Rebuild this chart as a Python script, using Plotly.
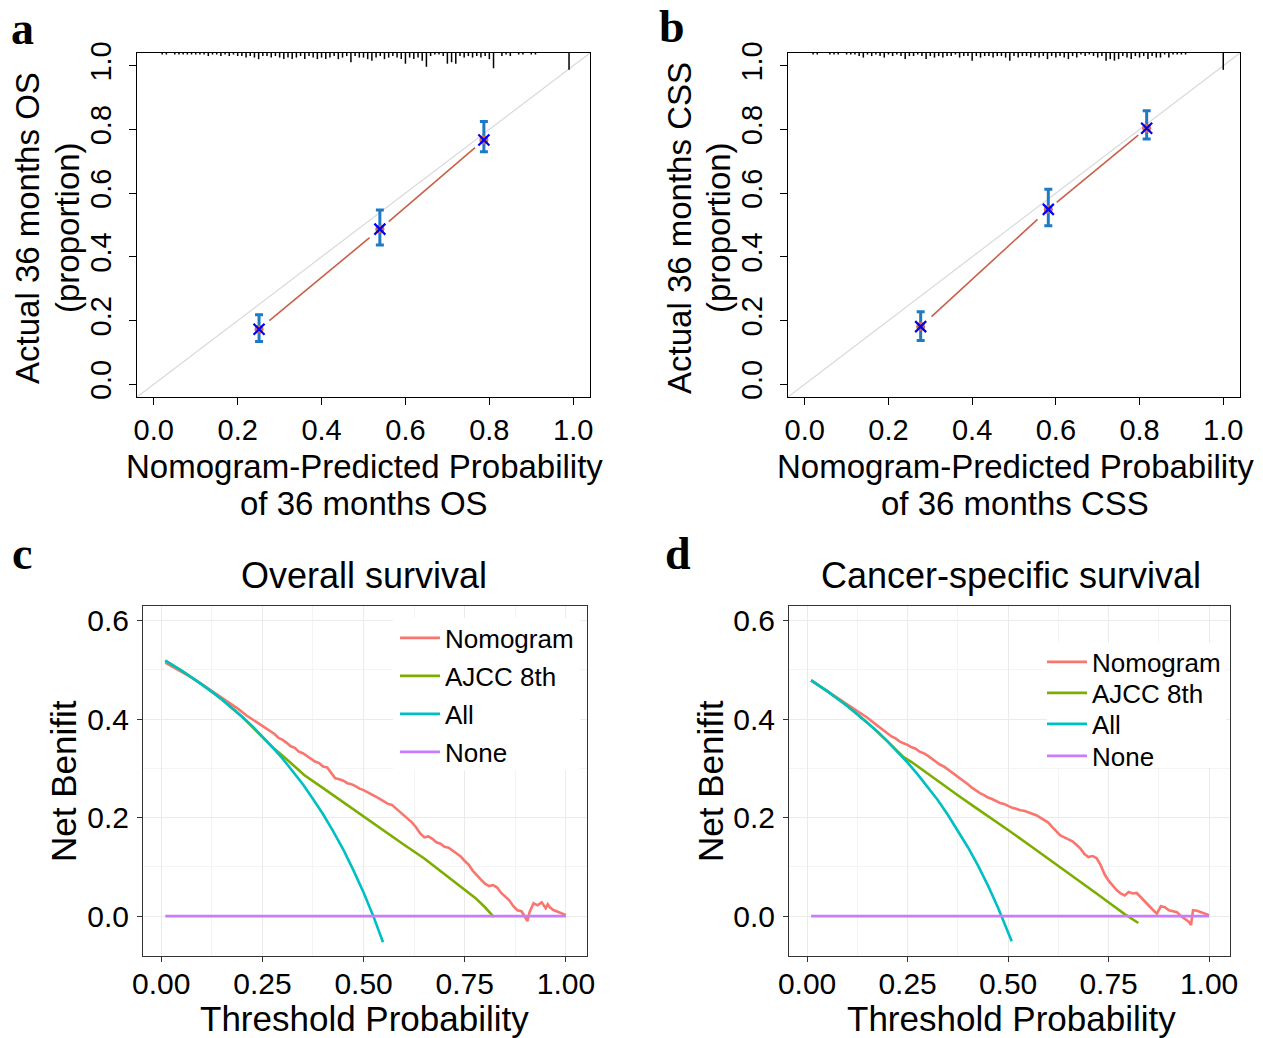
import plotly.graph_objects as go

W, H = 1263, 1038

# ---------------- Panel a / b : calibration (36 months) ----------------
cal_a_pred = [0.251, 0.539, 0.787]
cal_a_obs = [0.173, 0.487, 0.767]
cal_a_lo = [0.134, 0.437, 0.730]
cal_a_hi = [0.218, 0.547, 0.825]

cal_b_pred = [0.277, 0.582, 0.817]
cal_b_obs = [0.181, 0.549, 0.804]
cal_b_lo = [0.137, 0.498, 0.770]
cal_b_hi = [0.228, 0.612, 0.859]

# rug (spike histogram of predicted probabilities) on the top axis
rug_a_x = [0.02, 0.03, 0.04, 0.05, 0.06, 0.07, 0.08, 0.09, 0.10, 0.11,
           0.12, 0.13, 0.14, 0.15, 0.16, 0.17, 0.18, 0.19, 0.20, 0.21,
           0.22, 0.23, 0.24, 0.25, 0.26, 0.27, 0.28, 0.29, 0.30, 0.31,
           0.32, 0.33, 0.34, 0.35, 0.36, 0.37, 0.38, 0.39, 0.40, 0.41,
           0.42, 0.43, 0.44, 0.45, 0.46, 0.47, 0.48, 0.49, 0.50, 0.51,
           0.52, 0.53, 0.54, 0.55, 0.56, 0.57, 0.58, 0.59, 0.60, 0.61,
           0.62, 0.63, 0.64, 0.65, 0.66, 0.67, 0.68, 0.69, 0.70, 0.71,
           0.72, 0.73, 0.74, 0.75, 0.76, 0.77, 0.78, 0.79, 0.80, 0.81,
           0.82, 0.83, 0.84, 0.85, 0.86, 0.87, 0.88, 0.89, 0.90, 0.91,
           0.99]
rug_a_n = [1, 1, 0, 1, 1, 1, 1, 1, 1, 1,
           1, 2, 1, 1, 2, 1, 2, 1, 2, 2,
           3, 2, 3, 4, 2, 2, 3, 2, 3, 4,
           3, 4, 3, 2, 4, 2, 3, 4, 3, 4,
           3, 2, 4, 3, 2, 6, 2, 3, 3, 4,
           5, 3, 2, 4, 3, 2, 3, 4, 7, 3,
           4, 3, 5, 9, 2, 1, 1, 2, 7, 6,
           7, 2, 3, 2, 3, 2, 3, 2, 4, 10,
           0, 2, 1, 2, 0, 1, 1, 0, 1, 1,
           11]
rug_b_x = [0.02, 0.03, 0.04, 0.05, 0.06, 0.07, 0.08, 0.09, 0.10, 0.11,
           0.12, 0.13, 0.14, 0.15, 0.16, 0.17, 0.18, 0.19, 0.20, 0.21,
           0.22, 0.23, 0.24, 0.25, 0.26, 0.27, 0.28, 0.29, 0.30, 0.31,
           0.32, 0.33, 0.34, 0.35, 0.36, 0.37, 0.38, 0.39, 0.40, 0.41,
           0.42, 0.43, 0.44, 0.45, 0.46, 0.47, 0.48, 0.49, 0.50, 0.51,
           0.52, 0.53, 0.54, 0.55, 0.56, 0.57, 0.58, 0.59, 0.60, 0.61,
           0.62, 0.63, 0.64, 0.65, 0.66, 0.67, 0.68, 0.69, 0.70, 0.71,
           0.72, 0.73, 0.74, 0.75, 0.76, 0.77, 0.78, 0.79, 0.80, 0.81,
           0.82, 0.83, 0.84, 0.85, 0.86, 0.87, 0.88, 0.89, 0.90, 0.91,
           1.00]
rug_b_n = [1, 1, 0, 0, 1, 1, 1, 0, 1, 1,
           1, 2, 3, 1, 2, 1, 2, 3, 1, 2,
           1, 2, 4, 2, 2, 1, 2, 4, 2, 3,
           2, 3, 2, 2, 1, 3, 2, 2, 5, 2,
           3, 2, 2, 3, 2, 2, 3, 5, 2, 3,
           2, 2, 3, 2, 3, 2, 4, 2, 3, 2,
           3, 4, 2, 3, 1, 2, 1, 2, 3, 2,
           5, 4, 5, 4, 2, 3, 4, 2, 3, 2,
           4, 2, 3, 3, 1, 3, 1, 1, 1, 1,
           11]

cal_ticks = [0.0, 0.2, 0.4, 0.6, 0.8, 1.0]
cal_ticktext = ["0.0", "0.2", "0.4", "0.6", "0.8", "1.0"]

# ---------------- Panel c / d : decision curves ----------------
dca_labels = ["Nomogram", "AJCC 8th", "All", "None"]

c_nom_t = [0.01, 0.03, 0.05, 0.07, 0.09, 0.11, 0.13, 0.15, 0.17, 0.19,
           0.21, 0.23, 0.25, 0.26, 0.27, 0.28, 0.29, 0.30, 0.31, 0.32,
           0.33, 0.34, 0.35, 0.36, 0.37, 0.38, 0.39, 0.40, 0.41, 0.42,
           0.43, 0.44, 0.45, 0.46, 0.47, 0.48, 0.49, 0.50, 0.51, 0.52,
           0.53, 0.54, 0.55, 0.56, 0.57, 0.58, 0.59, 0.60, 0.61, 0.62,
           0.63, 0.64, 0.65, 0.66, 0.67, 0.68, 0.69, 0.70, 0.71, 0.72,
           0.73, 0.74, 0.75, 0.76, 0.77, 0.78, 0.79, 0.80, 0.81, 0.82,
           0.83, 0.84, 0.85, 0.86, 0.87, 0.88, 0.89, 0.90, 0.905, 0.91,
           0.92, 0.93, 0.94, 0.95, 0.955, 0.96, 0.97, 0.98, 0.99, 1.00]
c_nom_nb = [0.515, 0.506, 0.497, 0.487, 0.477, 0.466, 0.455, 0.443, 0.432, 0.421,
            0.408, 0.397, 0.386, 0.381, 0.374, 0.370, 0.362, 0.358, 0.352, 0.345,
            0.342, 0.334, 0.331, 0.325, 0.320, 0.314, 0.311, 0.304, 0.302, 0.290,
            0.280, 0.278, 0.275, 0.270, 0.268, 0.264, 0.259, 0.256, 0.252, 0.247,
            0.243, 0.238, 0.233, 0.228, 0.226, 0.219, 0.212, 0.205, 0.199, 0.190,
            0.180, 0.168, 0.160, 0.162, 0.157, 0.150, 0.147, 0.141, 0.139, 0.133,
            0.126, 0.121, 0.112, 0.104, 0.092, 0.082, 0.074, 0.066, 0.061, 0.063,
            0.058, 0.047, 0.040, 0.032, 0.020, 0.012, 0.010, -0.002, -0.010, 0.008,
            0.026, 0.022, 0.028, 0.016, 0.024, 0.018, 0.012, 0.009, 0.005, 0.002]

c_ajcc_t = [0.01, 0.05, 0.10, 0.15, 0.20, 0.25, 0.275, 0.30, 0.325, 0.354,
            0.40, 0.45, 0.50, 0.55, 0.60, 0.65, 0.70, 0.74, 0.776, 0.80, 0.822]
c_ajcc_nb = [0.519, 0.499, 0.471, 0.440, 0.405, 0.365, 0.343, 0.326, 0.307, 0.286,
             0.260, 0.231, 0.202, 0.174, 0.145, 0.117, 0.085, 0.060, 0.037, 0.018, -0.002]

c_all_t = [0.01, 0.025, 0.05, 0.075, 0.10, 0.125, 0.15, 0.175, 0.20, 0.225,
           0.25, 0.275, 0.30, 0.325, 0.35, 0.375, 0.40, 0.425, 0.45, 0.475,
           0.50, 0.525, 0.548]
c_all_nb = [0.519, 0.512, 0.499, 0.485, 0.471, 0.456, 0.440, 0.423, 0.405, 0.386,
            0.365, 0.343, 0.320, 0.295, 0.268, 0.238, 0.207, 0.172, 0.135, 0.093,
            0.048, -0.002, -0.053]

c_none_t = [0.01, 1.00]
c_none_nb = [0.0, 0.0]

d_nom_t = [0.01, 0.03, 0.05, 0.07, 0.09, 0.11, 0.13, 0.15, 0.17, 0.19,
           0.20, 0.21, 0.22, 0.23, 0.24, 0.25, 0.26, 0.27, 0.28, 0.29,
           0.30, 0.31, 0.32, 0.33, 0.34, 0.35, 0.36, 0.37, 0.38, 0.39,
           0.40, 0.41, 0.42, 0.43, 0.44, 0.45, 0.46, 0.47, 0.48, 0.49,
           0.50, 0.51, 0.52, 0.53, 0.54, 0.55, 0.56, 0.57, 0.58, 0.59,
           0.60, 0.61, 0.62, 0.63, 0.64, 0.65, 0.66, 0.67, 0.68, 0.69,
           0.70, 0.71, 0.72, 0.73, 0.74, 0.75, 0.76, 0.77, 0.78, 0.79,
           0.80, 0.81, 0.82, 0.83, 0.84, 0.85, 0.86, 0.87, 0.88, 0.89,
           0.90, 0.91, 0.92, 0.93, 0.94, 0.95, 0.955, 0.96, 0.97, 0.98,
           0.99, 1.00]
d_nom_nb = [0.479, 0.468, 0.457, 0.446, 0.436, 0.425, 0.414, 0.403, 0.390, 0.378,
            0.371, 0.365, 0.361, 0.355, 0.351, 0.348, 0.343, 0.340, 0.334, 0.331,
            0.326, 0.320, 0.314, 0.308, 0.304, 0.298, 0.293, 0.287, 0.280, 0.274,
            0.268, 0.261, 0.255, 0.250, 0.246, 0.241, 0.238, 0.234, 0.230, 0.228,
            0.224, 0.220, 0.218, 0.215, 0.214, 0.211, 0.209, 0.205, 0.200, 0.195,
            0.190, 0.181, 0.172, 0.164, 0.160, 0.156, 0.152, 0.145, 0.137, 0.126,
            0.120, 0.122, 0.118, 0.104, 0.085, 0.072, 0.062, 0.053, 0.046, 0.042,
            0.049, 0.046, 0.047, 0.038, 0.029, 0.022, 0.013, 0.005, 0.020, 0.018,
            0.012, 0.010, 0.008, 0.000, -0.006, -0.012, -0.018, 0.012, 0.011, 0.008,
            0.005, 0.002]

d_ajcc_t = [0.01, 0.05, 0.10, 0.15, 0.20, 0.225, 0.24, 0.26, 0.28, 0.30,
            0.33, 0.36, 0.381, 0.42, 0.46, 0.50, 0.55, 0.60, 0.629, 0.68,
            0.72, 0.753, 0.79, 0.824]
d_ajcc_nb = [0.479, 0.457, 0.427, 0.393, 0.355, 0.334, 0.323, 0.313, 0.301, 0.290,
             0.272, 0.254, 0.242, 0.220, 0.198, 0.175, 0.146, 0.117, 0.100, 0.070,
             0.046, 0.026, 0.004, -0.014]

d_all_t = [0.01, 0.025, 0.05, 0.075, 0.10, 0.125, 0.15, 0.175, 0.20, 0.225,
           0.25, 0.275, 0.30, 0.325, 0.35, 0.375, 0.40, 0.425, 0.45, 0.475,
           0.50, 0.509]
d_all_nb = [0.479, 0.471, 0.457, 0.442, 0.427, 0.410, 0.393, 0.375, 0.355, 0.334,
            0.312, 0.288, 0.263, 0.236, 0.206, 0.174, 0.140, 0.103, 0.062, 0.017,
            -0.032, -0.051]

d_none_t = [0.01, 1.00]
d_none_nb = [0.0, 0.0]

dca_xticks = [0.0, 0.25, 0.5, 0.75, 1.0]
dca_xticktext = ["0.00", "0.25", "0.50", "0.75", "1.00"]
dca_yticks = [0.0, 0.2, 0.4, 0.6]
dca_yticktext = ["0.0", "0.2", "0.4", "0.6"]

# ---------------- styles ----------------
SANS = "Liberation Sans, Arial, Helvetica, sans-serif"
SERIF = "Liberation Serif, Times New Roman, serif"
DCA_COLORS = ["#F8766D", "#7CAE00", "#00BFC4", "#C77CFF"]
ERR_COLOR = "#1f7ac6"
CAL_LINE = "#c9604a"
RUG_UNIT = 0.0048   # axis units per rug count


def px(x):
    return x / W


def py(y):
    return 1 - y / H


fig = go.Figure()


def add_calibration(xa, ya, pred, obs, lo, hi, rx, rn):
    # rug at top axis
    xs, ys = [], []
    for v, n in zip(rx, rn):
        if n <= 0:
            continue
        xs += [v, v, None]
        ys += [1.04, 1.04 - n * RUG_UNIT, None]
    fig.add_trace(go.Scatter(x=xs, y=ys, mode="lines", xaxis=xa, yaxis=ya,
                             line=dict(color="black", width=1.5),
                             showlegend=False, hoverinfo="skip"))
    # connecting line with small gaps around the points (type = "b")
    g = 0.085
    for i in range(len(pred) - 1):
        x0, y0, x1, y1 = pred[i], obs[i], pred[i + 1], obs[i + 1]
        fig.add_trace(go.Scatter(
            x=[x0 + g * (x1 - x0), x1 - g * (x1 - x0)],
            y=[y0 + g * (y1 - y0), y1 - g * (y1 - y0)],
            mode="lines", xaxis=xa, yaxis=ya,
            line=dict(color=CAL_LINE, width=1.6),
            showlegend=False, hoverinfo="skip"))
    # dots + error bars
    fig.add_trace(go.Scatter(
        x=pred, y=obs, mode="markers", xaxis=xa, yaxis=ya,
        marker=dict(symbol="circle", size=9, color="#cf6f4f"),
        error_y=dict(type="data", symmetric=False,
                     array=[h - o for h, o in zip(hi, obs)],
                     arrayminus=[o - l for o, l in zip(obs, lo)],
                     color=ERR_COLOR, thickness=3, width=4),
        showlegend=False, hoverinfo="skip"))
    fig.add_trace(go.Scatter(
        x=pred, y=obs, mode="markers", xaxis=xa, yaxis=ya,
        marker=dict(symbol="x-thin", size=11,
                    line=dict(color="#0000ff", width=2.2)),
        showlegend=False, hoverinfo="skip"))


add_calibration("x", "y", cal_a_pred, cal_a_obs, cal_a_lo, cal_a_hi, rug_a_x, rug_a_n)
add_calibration("x2", "y2", cal_b_pred, cal_b_obs, cal_b_lo, cal_b_hi, rug_b_x, rug_b_n)


def add_dca(xa, ya, series, legends):
    for (t, nb), name, col, lg in zip(series, dca_labels, DCA_COLORS, legends):
        fig.add_trace(go.Scatter(
            x=t, y=nb, mode="lines", name=name, xaxis=xa, yaxis=ya,
            line=dict(color=col, width=2.6), legend=lg, hoverinfo="skip"))


add_dca("x3", "y3", [(c_nom_t, c_nom_nb), (c_ajcc_t, c_ajcc_nb),
                     (c_all_t, c_all_nb), (c_none_t, c_none_nb)],
        ["legend", "legend2", "legend3", "legend4"])
add_dca("x4", "y4", [(d_nom_t, d_nom_nb), (d_ajcc_t, d_ajcc_nb),
                     (d_all_t, d_all_nb), (d_none_t, d_none_nb)],
        ["legend5", "legend6", "legend7", "legend8"])

# ---------------- axes ----------------
cal_y_dom = [py(397), py(53)]
dca_y_dom = [py(956), py(606)]

cal_x_common = dict(range=[-0.04, 1.04], tickvals=cal_ticks, ticktext=cal_ticktext,
                    ticks="outside", ticklen=7, tickwidth=1.3, tickcolor="black",
                    showline=True, mirror=True, linecolor="black", linewidth=1.3,
                    showgrid=False, zeroline=False,
                    tickfont=dict(family=SANS, size=29, color="black"))
cal_y_common = dict(cal_x_common)
cal_y_common["tickangle"] = -90
cal_y_common["ticklabelstandoff"] = 6

dca_x_common = dict(range=[-0.045, 1.052], tickvals=dca_xticks, ticktext=dca_xticktext,
                    ticks="outside", ticklen=5, tickwidth=1.1, tickcolor="#333333",
                    showline=True, mirror=True, linecolor="#333333", linewidth=1.1,
                    showgrid=True, gridcolor="#EBEBEB", gridwidth=1.3, zeroline=False,
                    minor=dict(dtick=0.125, tick0=0, showgrid=True,
                               gridcolor="#F4F4F4", gridwidth=0.8),
                    ticklabelstandoff=-4,
                    tickfont=dict(family=SANS, size=30, color="black"))
dca_y_common = dict(range=[-0.081, 0.63], tickvals=dca_yticks, ticktext=dca_yticktext,
                    ticks="outside", ticklen=5, tickwidth=1.1, tickcolor="#333333",
                    showline=True, mirror=True, linecolor="#333333", linewidth=1.1,
                    showgrid=True, gridcolor="#EBEBEB", gridwidth=1.3, zeroline=False,
                    minor=dict(dtick=0.1, tick0=0, showgrid=True,
                               gridcolor="#F4F4F4", gridwidth=0.8),
                    ticklabelstandoff=2,
                    tickfont=dict(family=SANS, size=30, color="black"))


def leg(x, y):
    return dict(x=px(x), y=py(y), xanchor="left", yanchor="middle",
                bgcolor="rgba(255,255,255,0)", borderwidth=0, itemwidth=40,
                font=dict(family=SANS, size=26, color="black"))


layout_legends = {}
for i, yy in enumerate([638, 676, 714, 752]):
    layout_legends["legend" if i == 0 else "legend%d" % (i + 1)] = leg(395, yy)
for i, yy in enumerate([662, 693, 724, 756]):
    layout_legends["legend%d" % (i + 5)] = leg(1042, yy)

fig.update_layout(
    width=W, height=H,
    margin=dict(l=0, r=0, t=0, b=0, pad=0, autoexpand=False),
    paper_bgcolor="white", plot_bgcolor="white",
    font=dict(family=SANS, color="black"),
    xaxis=dict(domain=[px(137), px(590)], anchor="y", **cal_x_common),
    yaxis=dict(domain=cal_y_dom, anchor="x", **cal_y_common),
    xaxis2=dict(domain=[px(788), px(1240)], anchor="y2", **cal_x_common),
    yaxis2=dict(domain=cal_y_dom, anchor="x2", **cal_y_common),
    xaxis3=dict(domain=[px(143), px(587)], anchor="y3", **dca_x_common),
    yaxis3=dict(domain=dca_y_dom, anchor="x3", **dca_y_common),
    xaxis4=dict(domain=[px(789), px(1230)], anchor="y4", **dca_x_common),
    yaxis4=dict(domain=dca_y_dom, anchor="x4", **dca_y_common),
    **layout_legends,
)

# reference diagonal (ideal calibration)
for xa, ya in [("x", "y"), ("x2", "y2")]:
    fig.add_shape(type="line", xref=xa + " domain", yref=ya + " domain",
                  x0=0, y0=0, x1=1, y1=1, line=dict(color="#d9d9d9", width=1.2),
                  layer="below")

# white legend key background (hides grid lines behind the legends)
for xa, ya, x0, x1, y0, y1 in [("x3", "y3", 0.563, 0.984, 0.531, 0.966),
                               ("x4", "y4", 0.585, 0.991, 0.537, 0.894)]:
    fig.add_shape(type="rect", xref=xa + " domain", yref=ya + " domain",
                  x0=x0, x1=x1, y0=y0, y1=y1, fillcolor="white",
                  line=dict(width=0), layer="above")


# ---------------- text ----------------
def ann(text, x, y, size, angle=0, family=SANS, bold=False):
    fig.add_annotation(text=("<b>%s</b>" % text) if bold else text,
                       x=px(x), y=py(y), xref="paper", yref="paper",
                       showarrow=False, textangle=angle,
                       xanchor="center", yanchor="middle",
                       font=dict(family=family, size=size, color="black"))


ann("Nomogram-Predicted Probability", 364, 466, 33)
ann("of 36 months OS", 364, 503, 33)
ann("Nomogram-Predicted Probability", 1015, 466, 33)
ann("of 36 months CSS", 1015, 503, 33)
ann("Actual 36 months OS", 27, 228, 33, angle=-90)
ann("(proportion)", 67, 228, 33, angle=-90)
ann("Actual 36 months CSS", 679, 228, 33, angle=-90)
ann("(proportion)", 718, 228, 33, angle=-90)

ann("Overall survival", 364, 575, 36)
ann("Cancer-specific survival", 1011, 575, 36)
ann("Threshold Probability", 364, 1018, 35)
ann("Threshold Probability", 1011, 1018, 35)
ann("Net Benifit", 63, 781, 35, angle=-90)
ann("Net Benifit", 710, 781, 35, angle=-90)

ann("a", 22, 28, 46, family=SERIF, bold=True)
ann("b", 672, 26, 46, family=SERIF, bold=True)
ann("c", 22, 553, 46, family=SERIF, bold=True)
ann("d", 678, 553, 46, family=SERIF, bold=True)

fig.write_html("out.html",
               config={"displayModeBar": False},
               post_script="document.body.style.margin='0';"
                           "document.body.style.padding='0';")
